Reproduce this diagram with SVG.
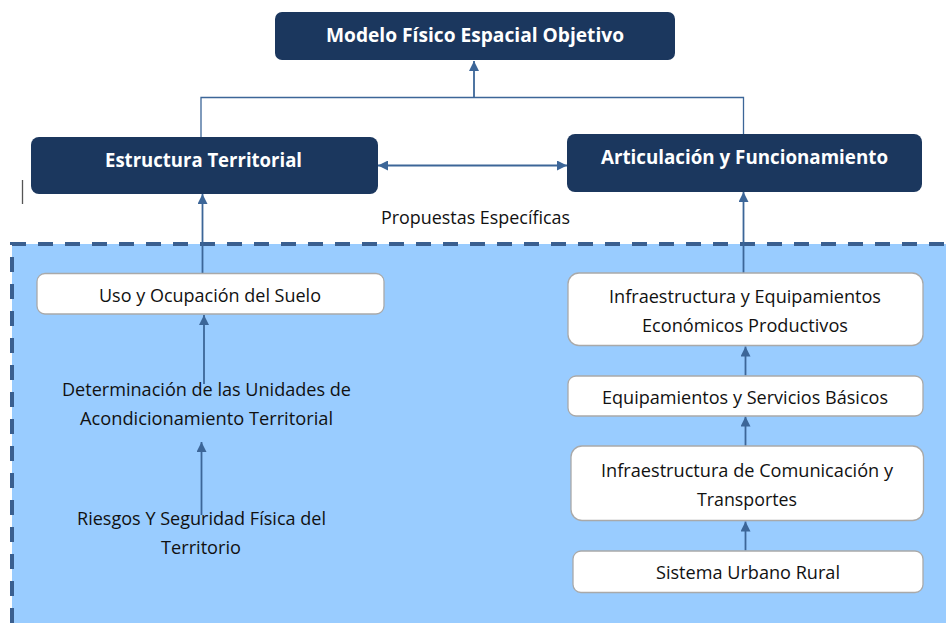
<svg xmlns="http://www.w3.org/2000/svg" width="946" height="623" viewBox="0 0 946 623">
<defs>
<style>
.dark{fill:#1b375e;}
.light{fill:#ffffff;stroke:#a9a9a9;stroke-width:1.3;}
.tb{font-family:"Open Sans","Noto Sans",sans-serif;font-weight:bold;font-size:19px;fill:#ffffff;text-anchor:middle;}
.tr{font-family:"Open Sans","Noto Sans",sans-serif;font-size:17.5px;fill:#111111;text-anchor:middle;}
.conn{fill:none;stroke:#3c6698;stroke-width:1.8;}
.thin{fill:none;stroke:#3c6698;stroke-width:1.3;}
</style>
<marker id="ah" viewBox="0 0 10 10" refX="10" refY="5" markerWidth="10" markerHeight="10" markerUnits="userSpaceOnUse" orient="auto-start-reverse">
<path d="M0,0 L10,5 L0,10 Z" fill="#3c6698"/>
</marker>
</defs>
<rect x="0" y="0" width="946" height="623" fill="#ffffff"/>
<g id="region">
<rect x="12" y="244" width="940" height="385" fill="#99ccff"/>
<path d="M12,623 V244 H946" fill="none" stroke="#3a5f8f" stroke-width="4" stroke-dasharray="15,12"/>
</g>
<line x1="22.5" y1="180" x2="22.5" y2="204" stroke="#555555" stroke-width="1.3"/>
<g id="connectors">
<path class="thin" d="M201,137 V97.5 H743.5 V134"/>
<line class="conn" x1="474" y1="97.5" x2="474" y2="61" marker-end="url(#ah)"/>
<line class="conn" x1="378" y1="165.5" x2="567" y2="165.5" marker-start="url(#ah)" marker-end="url(#ah)"/>
<line class="conn" x1="202.5" y1="273" x2="202.5" y2="194" marker-end="url(#ah)"/>
<line class="conn" x1="204" y1="384" x2="204" y2="315" marker-end="url(#ah)"/>
<line class="conn" x1="201.5" y1="515" x2="201.5" y2="442" marker-end="url(#ah)"/>
<line class="conn" x1="743.5" y1="273" x2="743.5" y2="192" marker-end="url(#ah)"/>
<line class="conn" x1="745.5" y1="375.5" x2="745.5" y2="346.5" marker-end="url(#ah)"/>
<line class="conn" x1="745.5" y1="446" x2="745.5" y2="416.5" marker-end="url(#ah)"/>
<line class="conn" x1="745.5" y1="550.5" x2="745.5" y2="521.5" marker-end="url(#ah)"/>
</g>
<g id="modelo">
<rect class="dark" x="275" y="12" width="400" height="48" rx="7"/>
<text class="tb" x="475" y="42" textLength="298" lengthAdjust="spacingAndGlyphs">Modelo Físico Espacial Objetivo</text>
</g>
<g id="estructura">
<rect class="dark" x="31" y="137" width="347" height="57" rx="8"/>
<text class="tb" x="203.5" y="167" textLength="197" lengthAdjust="spacingAndGlyphs">Estructura Territorial</text>
</g>
<g id="articulacion">
<rect class="dark" x="567" y="134" width="355" height="58" rx="8"/>
<text class="tb" x="744.5" y="164" textLength="287" lengthAdjust="spacingAndGlyphs">Articulación y Funcionamiento</text>
</g>
<g id="propuestas">
<text class="tr" x="475.5" y="224" textLength="189" lengthAdjust="spacingAndGlyphs">Propuestas Específicas</text>
</g>
<g id="uso">
<rect class="light" x="37" y="273.5" width="347" height="40.5" rx="8"/>
<text class="tr" x="210" y="302" textLength="222" lengthAdjust="spacingAndGlyphs">Uso y Ocupación del Suelo</text>
</g>
<g id="determinacion">
<text class="tr" x="206.5" y="396" textLength="289" lengthAdjust="spacingAndGlyphs">Determinación de las Unidades de</text>
<text class="tr" x="206.5" y="424.5" textLength="253" lengthAdjust="spacingAndGlyphs">Acondicionamiento Territorial</text>
</g>
<g id="riesgos">
<text class="tr" x="201.5" y="525" textLength="249" lengthAdjust="spacingAndGlyphs">Riesgos Y Seguridad Física del</text>
<text class="tr" x="201" y="554" textLength="80" lengthAdjust="spacingAndGlyphs">Territorio</text>
</g>
<g id="infra-eco">
<rect class="light" x="568" y="273" width="355" height="72.5" rx="11"/>
<text class="tr" x="745" y="302.5" textLength="272" lengthAdjust="spacingAndGlyphs">Infraestructura y Equipamientos</text>
<text class="tr" x="745" y="331.5" textLength="206" lengthAdjust="spacingAndGlyphs">Económicos Productivos</text>
</g>
<g id="equipamientos">
<rect class="light" x="568" y="376" width="355" height="40" rx="8"/>
<text class="tr" x="745" y="404" textLength="286" lengthAdjust="spacingAndGlyphs">Equipamientos y Servicios Básicos</text>
</g>
<g id="infra-com">
<rect class="light" x="571" y="446" width="352.5" height="74.5" rx="11"/>
<text class="tr" x="747" y="476.5" textLength="292" lengthAdjust="spacingAndGlyphs">Infraestructura de Comunicación y</text>
<text class="tr" x="747" y="505.5" textLength="100" lengthAdjust="spacingAndGlyphs">Transportes</text>
</g>
<g id="sistema">
<rect class="light" x="573" y="551" width="350" height="41.5" rx="8"/>
<text class="tr" x="748" y="579" textLength="184" lengthAdjust="spacingAndGlyphs">Sistema Urbano Rural</text>
</g>
</svg>
